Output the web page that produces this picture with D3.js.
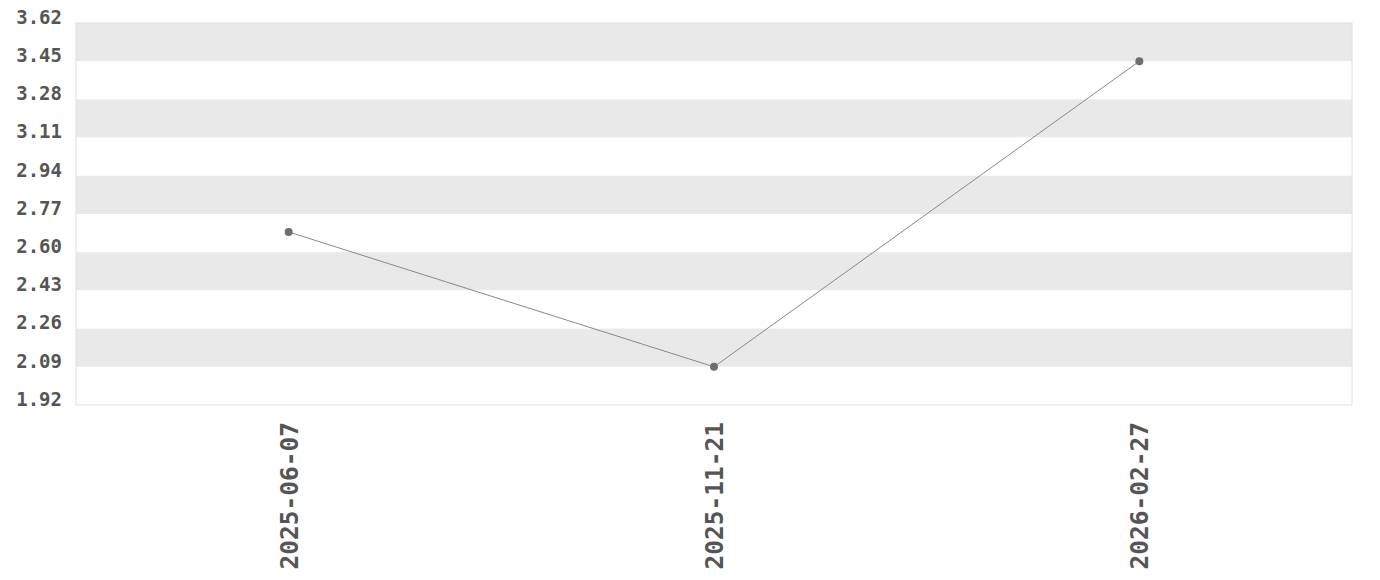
<!DOCTYPE html>
<html>
<head>
<meta charset="utf-8">
<script src="https://cdn.jsdelivr.net/npm/d3@7"></script>
<style>
  body { margin: 0; background: #fff; }
  svg text { font-family: "DejaVu Sans Mono", monospace; font-weight: bold; fill: #555; }
</style>
</head>
<body>
<svg id="chart" width="1380" height="580"></svg>
<script>
const dates = ["2025-06-07", "2025-11-21", "2026-02-27"];
const values = [2.69, 2.09, 3.45];
const yTicks = [1.92, 2.09, 2.26, 2.43, 2.60, 2.77, 2.94, 3.11, 3.28, 3.45, 3.62];

const svg = d3.select("#chart");
const margin = { top: 23, right: 28, bottom: 175, left: 76 };
const width = +svg.attr("width") - margin.left - margin.right;
const height = +svg.attr("height") - margin.top - margin.bottom;

const g = svg.append("g").attr("transform", `translate(${margin.left},${margin.top})`);

const x = d3.scalePoint().domain(dates).range([0, width]).padding(0.5);
const y = d3.scaleLinear().domain([1.92, 3.62]).range([height, 0]);

// alternating bands, gray from the top
const bands = d3.pairs(yTicks).reverse();
g.selectAll(".band")
  .data(bands)
  .enter()
  .append("rect")
  .attr("x", 0)
  .attr("width", width)
  .attr("y", d => y(d[1]))
  .attr("height", d => y(d[0]) - y(d[1]))
  .attr("fill", (d, i) => i % 2 === 0 ? "#e9e9e9" : "#fff");

g.append("rect")
  .attr("width", width)
  .attr("height", height)
  .attr("fill", "none")
  .attr("stroke", "#e0e0e0");

// y axis, labels sit just above their tick
const yAxis = g.append("g")
  .call(d3.axisLeft(y).tickValues(yTicks).tickFormat(d3.format(".2f")).tickSize(0).tickPadding(14));
yAxis.select(".domain").remove();
yAxis.selectAll("text")
  .style("font-size", "19px")
  .attr("dy", "0.02em");

// x axis
const xAxis = g.append("g")
  .attr("transform", `translate(0,${height})`)
  .call(d3.axisBottom(x).tickSize(0));
xAxis.select(".domain").remove();
xAxis.selectAll("text")
  .style("font-size", "24.5px")
  .attr("text-anchor", "end")
  .attr("transform", "rotate(-90)")
  .attr("x", -17)
  .attr("y", 0)
  .attr("dy", "0.35em");

// line
const data = dates.map((d, i) => ({ date: d, value: values[i] }));
g.append("path")
  .datum(data)
  .attr("fill", "none")
  .attr("stroke", "#888")
  .attr("stroke-width", 1)
  .attr("d", d3.line().x(d => x(d.date)).y(d => y(d.value)));

g.selectAll(".dot")
  .data(data)
  .enter()
  .append("circle")
  .attr("cx", d => x(d.date))
  .attr("cy", d => y(d.value))
  .attr("r", 4)
  .attr("fill", "#6e6e6e");
</script>
</body>
</html>
